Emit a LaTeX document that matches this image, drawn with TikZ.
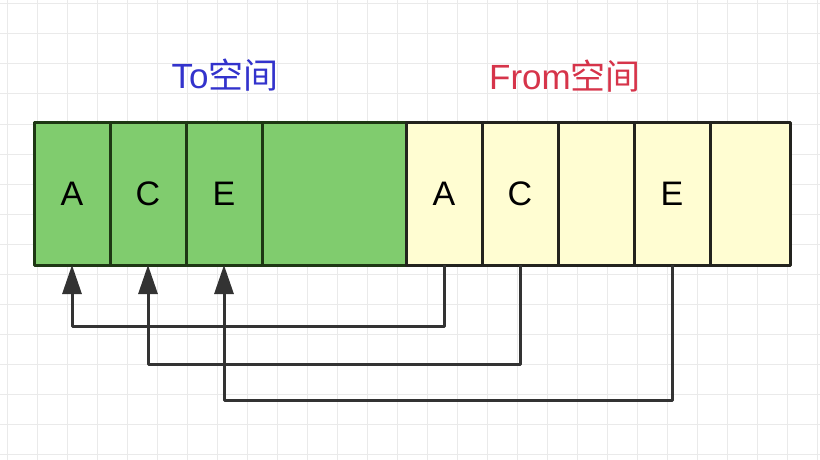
\documentclass[tikz,border=0pt]{standalone}
\usepackage{fontspec}
\setmainfont{Liberation Sans}
\newfontfamily\cjk{Noto Sans CJK SC}
\usetikzlibrary{positioning,arrows.meta}
\definecolor{tofill}{RGB}{128,204,110}
\definecolor{toline}{RGB}{30,55,20}
\definecolor{fromfill}{RGB}{255,253,210}
\definecolor{fromline}{RGB}{35,35,30}
\definecolor{tocol}{RGB}{51,51,204}
\definecolor{fromcol}{RGB}{214,52,74}
\definecolor{gridcol}{RGB}{234,234,234}
\definecolor{linkcol}{RGB}{51,51,51}
\begin{document}
\begin{tikzpicture}[x=1pt, y=-1pt, line join=round, >={Triangle[width=19pt,length=29pt]},
	cell/.style={draw, line width=3pt, minimum height=143pt, minimum width=76pt, inner sep=0pt, outer sep=0pt, font=\fontsize{34}{40}\selectfont},
	tocell/.style={cell, fill=tofill, draw=toline},
	fromcell/.style={cell, fill=fromfill, draw=fromline},
	link/.style={->, draw=linkcol, line width=3pt},
	title/.style={font=\fontsize{35}{40}\selectfont}]
			\useasboundingbox (0,0) rectangle (820,460);
			% background grid
			\foreach \gx in {7,37,...,817} \draw[gridcol, line width=1pt] (\gx,0) -- (\gx,460);
			\foreach \gy in {4,34,...,454} \draw[gridcol, line width=1pt] (0,\gy) -- (820,\gy);
			% titles
			\node[title, text=tocol] (totitle) at (225,75) {To{\cjk 空间}};
			\node[title, text=fromcol] (fromtitle) at (565,76) {From{\cjk 空间}};
			% to space
			\node[tocell, anchor=north west] (t1) at (34,122) {A};
			\node[tocell, right=0pt of t1] (t2) {C};
			\node[tocell, right=0pt of t2] (t3) {E};
			\node[tocell, right=0pt of t3, minimum width=144pt] (t4) {};
			% from space
			\node[fromcell, right=0pt of t4] (f1) {A};
			\node[fromcell, right=0pt of f1] (f2) {C};
			\node[fromcell, right=0pt of f2] (f3) {};
			\node[fromcell, right=0pt of f3] (f4) {E};
			\node[fromcell, right=0pt of f4, minimum width=80pt] (f5) {};
			% copies
			\draw[link] (f1.south) -- ++(0,61) -| (t1.south);
			\draw[link] (f2.south) -- ++(0,99) -| (t2.south);
			\draw[link] (f4.south) -- ++(0,135) -| (t3.south);
		\end{tikzpicture}
\end{document}
